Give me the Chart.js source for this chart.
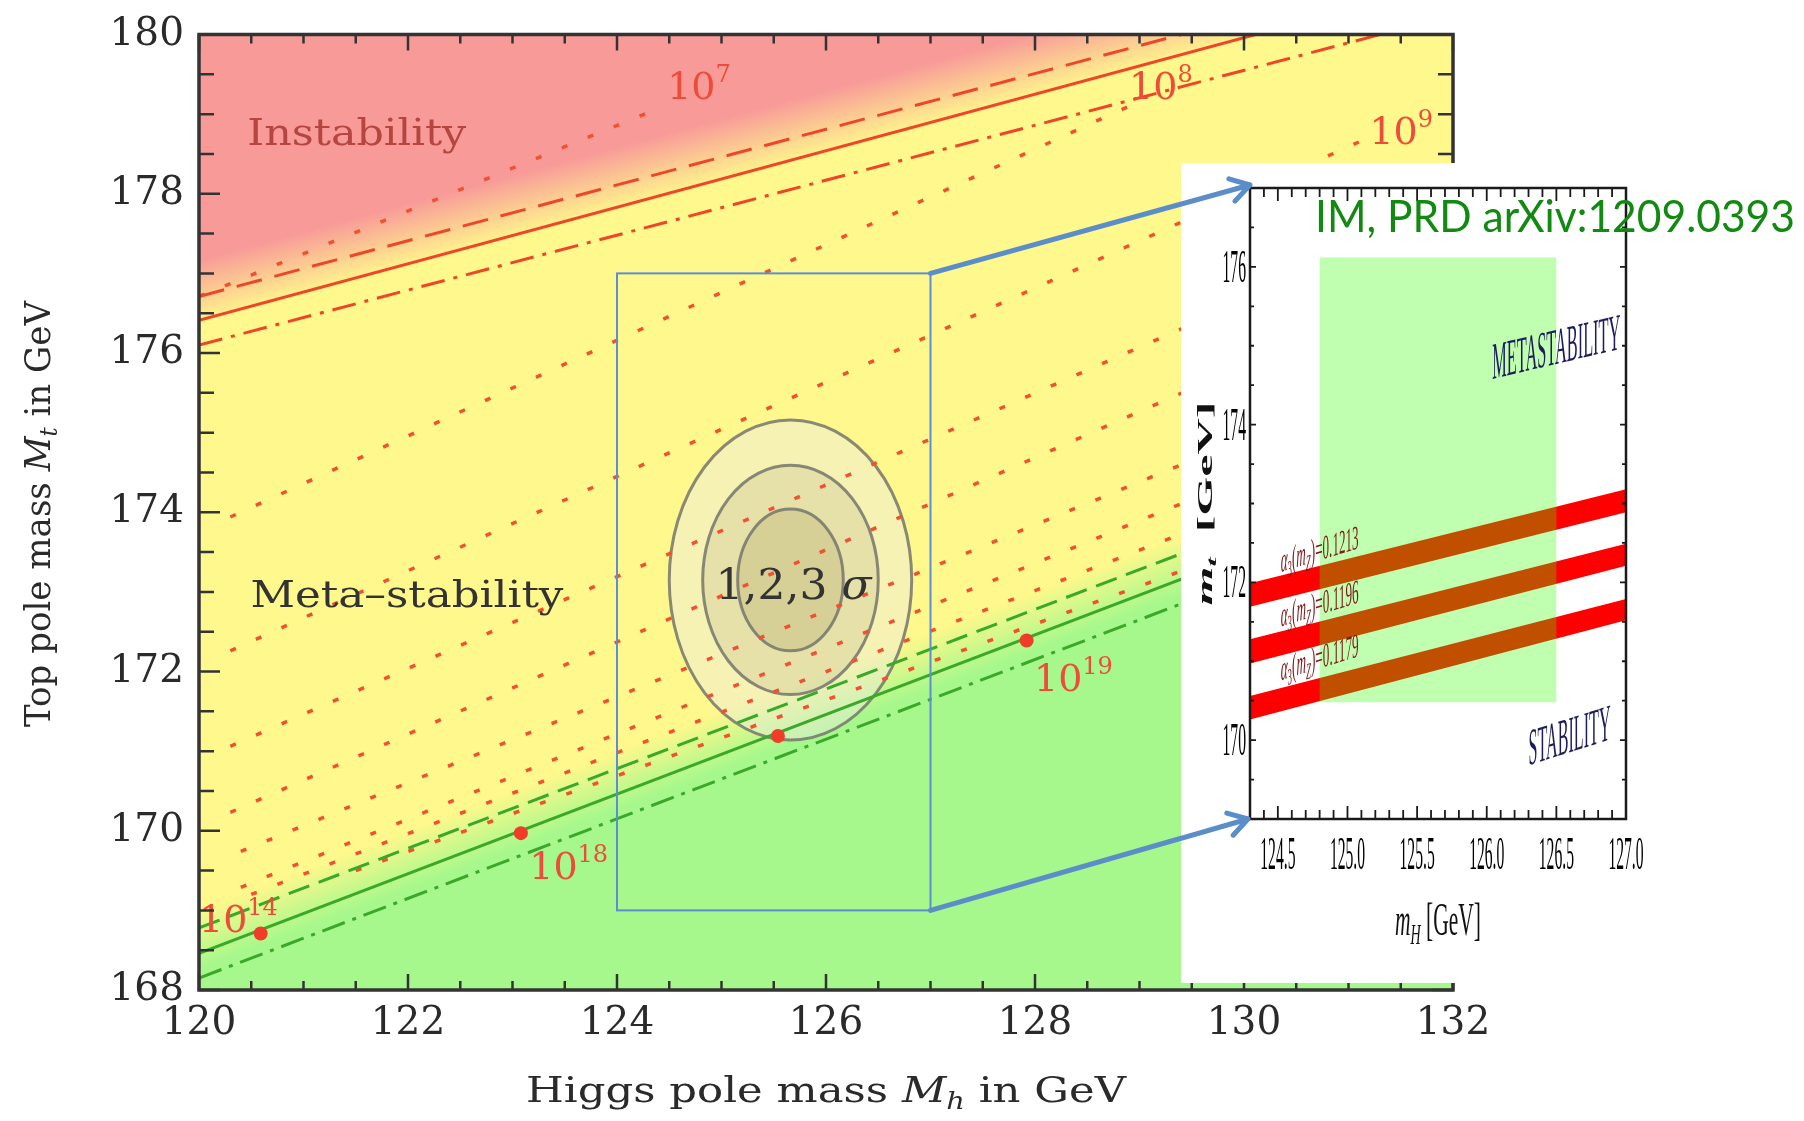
<!DOCTYPE html>
<html lang="en">
<head>
<meta charset="utf-8">
<title>Vacuum stability in the Higgs mass / top mass plane</title>
<script src="https://cdn.jsdelivr.net/npm/chart.js@4.4.1/dist/chart.umd.min.js"></script>
<style>
  html, body { margin: 0; background: #ffffff; }
  #stage { position: relative; width: 1804px; height: 1121px; overflow: hidden; }
  #main { position: absolute; left: 0; top: 0; }
  #inset { position: absolute; left: 1181px; top: 163px; }
</style>
</head>
<body>
<div id="stage">
  <canvas id="main" width="1804" height="1121"></canvas>
  <canvas id="inset" width="623" height="820"></canvas>
</div>
<script>
"use strict";

// ---------- main plot, values ----------
const xMajorTicks = [120, 122, 124, 126, 128, 130, 132];
const yMajorTicks = [168, 170, 172, 174, 176, 178, 180];

// boundaries: top mass at Mh = 120 and Mh = 132
const boundaryX = [120, 132];
const instabilityCentral = [176.41, 180.67];
const instabilityUpper = [176.71, 180.91];
const instabilityLower = [176.10, 180.24];
const stabilityCentral = [168.46, 174.46];
const stabilityUpper = [168.78, 174.78];
const stabilityLower = [168.15, 174.15];

// dotted contours of the instability scale (start / end points)
const contourX0 = [120.0, 120.3, 120.3, 120.3, 120.3, 120.4, 120.4, 120.5, 121.5];
const contourY0 = [176.71, 173.94, 172.26, 171.06, 170.23, 169.74, 169.29, 169.20, 169.50];
const contourX1 = [124.45, 129.0, 131.1, 132.0, 132.0, 132.0, 132.0, 132.0, 132.0];
const contourY1 = [179.10, 179.16, 178.65, 177.80, 177.00, 176.00, 175.50, 175.05, 174.50];

const scaleExponents = ['7', '8', '9', '14', '18', '19'];
const scaleLabelX = [124.48, 128.90, 131.20, 120.0, 123.16, 127.99];
const scaleLabelY = [179.19, 179.19, 178.63, 168.73, 169.39, 171.75];

const dotX = [120.59, 123.08, 125.54, 127.92];
const dotY = [168.71, 169.97, 171.19, 172.39];

// 1, 2, 3 sigma ellipses
const fitCenter = [125.66, 173.15];
const sigmaHalfX = [0.505, 0.84, 1.16];
const sigmaHalfY = [0.89, 1.44, 2.01];

const zoomBoxX = [124, 127];
const zoomBoxY = [169, 177];

// ---------- inset ----------
const insetXRange = [124.3, 127.0];
const insetYRange = [169, 177];
const insetXTicks = [124.5, 125.0, 125.5, 126.0, 126.5, 127.0];
const insetXLabels = ['124.5', '125.0', '125.5', '126.0', '126.5', '127.0'];
const insetYTicks = [170, 172, 174, 176];
const insetYLabels = ['170', '172', '174', '176'];
const alphaValues = ['0.1213', '0.1196', '0.1179'];
const bandX = [124.3, 127.0];
const bandTop = [[171.99, 173.18], [171.28, 172.49], [170.56, 171.79]];
const bandBottom = [[171.69, 172.89], [170.97, 172.21], [170.26, 171.52]];
const higgsWindowX = [124.8, 126.5];
const higgsWindowY = [170.48, 176.12];

const INSET_LEFT = 1181, INSET_TOP = 163;
const PINK = 'rgb(248,155,152)', YELLOW = 'rgb(255,248,140)', LIME = 'rgb(166,248,140)';
const LINE_RED = 'rgb(238,70,40)', DOT_RED = 'rgb(242,80,48)', LINE_GREEN = 'rgb(58,168,40)';

let mainChart = null, insetChart = null;

const serif = (size, style) => (style ? style + ' ' : '') + size + 'px "DejaVu Serif"';
const times = (size, style) => (style ? style + ' ' : '') + size + 'px "Liberation Serif"';

function range(a, b, step) {
  const out = [];
  for (let v = a; v <= b + 1e-9; v += step) out.push(+v.toFixed(4));
  return out;
}

// text made of runs (for italics, sub/superscripts); can be stretched, rotated, sheared
function drawRuns(ctx, runs, x, y, o) {
  o = o || {};
  ctx.save();
  let total = 0;
  for (const r of runs) { ctx.font = r.font; r.w = ctx.measureText(r.text).width; total += r.w; }
  const k = o.width ? o.width / total : (o.k || 1);
  ctx.translate(x, y);
  if (o.angle) ctx.rotate(o.angle);
  ctx.transform(k, o.rise ? -o.rise / total : 0, 0, o.squash || 1, 0, 0);
  let u = o.align === 'center' ? -total / 2 : (o.align === 'right' ? -total : 0);
  ctx.textAlign = 'left';
  ctx.textBaseline = 'alphabetic';
  for (const r of runs) {
    ctx.font = r.font;
    ctx.fillStyle = r.color || o.color || '#000';
    ctx.fillText(r.text, u, r.dy || 0);
    u += r.w;
  }
  ctx.restore();
}

// gradient across a sloping boundary line
function crossGradient(ctx, x, y, line, above, below, colAbove, colBelow) {
  const x0 = x.getPixelForValue(boundaryX[0]), y0 = y.getPixelForValue(line[0]);
  const x1 = x.getPixelForValue(boundaryX[1]), y1 = y.getPixelForValue(line[1]);
  const len = Math.hypot(x1 - x0, y1 - y0);
  const dx = (x1 - x0) / len, dy = (y1 - y0) / len;
  const nx = dy, ny = -dx;
  const unit = y.getPixelForValue(line[0]) - y.getPixelForValue(line[0] + 1);
  const pa = above * unit * dx, pb = below * unit * dx;
  const g = ctx.createLinearGradient(x0 + nx * pa, y0 + ny * pa, x0 + nx * pb, y0 + ny * pb);
  g.addColorStop(0, colAbove);
  g.addColorStop(1, colBelow);
  return g;
}

function drawFrame(chart, t) {
  const { ctx, chartArea: a, scales: { x, y } } = chart;
  ctx.save();
  ctx.strokeStyle = t.color;
  ctx.lineWidth = t.width;
  ctx.beginPath();
  const vTick = (v, len) => {
    const px = x.getPixelForValue(v);
    ctx.moveTo(px, a.bottom); ctx.lineTo(px, a.bottom - len);
    ctx.moveTo(px, a.top); ctx.lineTo(px, a.top + len);
  };
  const hTick = (v, len) => {
    const py = y.getPixelForValue(v);
    ctx.moveTo(a.left, py); ctx.lineTo(a.left + len, py);
    ctx.moveTo(a.right, py); ctx.lineTo(a.right - len, py);
  };
  t.xMinor.forEach(v => vTick(v, t.xMinorLen));
  t.xMajor.forEach(v => vTick(v, t.xMajorLen));
  t.yMinor.forEach(v => hTick(v, t.yMinorLen));
  t.yMajor.forEach(v => hTick(v, t.yMajorLen));
  ctx.stroke();
  ctx.lineWidth = t.frameWidth;
  ctx.strokeRect(a.left, a.top, a.width, a.height);
  ctx.restore();
}

// arrows from the zoom box to the inset, drawn on both canvases in page coordinates
function drawZoomArrows(ctx, offX, offY, mainC, insetC) {
  if (!mainC || !insetC) return;
  const mx = mainC.scales.x, my = mainC.scales.y, ia = insetC.chartArea;
  const from = [[zoomBoxX[1], zoomBoxY[1]], [zoomBoxX[1], zoomBoxY[0]]];
  const to = [[INSET_LEFT + ia.left, INSET_TOP + ia.top - 3], [INSET_LEFT + ia.left - 2, INSET_TOP + ia.bottom]];
  ctx.save();
  ctx.translate(-offX, -offY);
  ctx.strokeStyle = '#5b8ec9';
  ctx.lineWidth = 5;
  ctx.lineCap = 'round';
  ctx.lineJoin = 'round';
  for (let i = 0; i < 2; i++) {
    const x0 = mx.getPixelForValue(from[i][0]), y0 = my.getPixelForValue(from[i][1]);
    const [x1, y1] = to[i];
    const ang = Math.atan2(y1 - y0, x1 - x0);
    ctx.beginPath();
    ctx.moveTo(x0, y0);
    ctx.lineTo(x1, y1);
    for (const s of [-1, 1]) {
      ctx.moveTo(x1, y1);
      ctx.lineTo(x1 - 22 * Math.cos(ang + s * 0.55), y1 - 22 * Math.sin(ang + s * 0.55));
    }
    ctx.stroke();
  }
  ctx.restore();
}

function lineSet(xs, ys, color, dash, width) {
  return {
    data: xs.map((v, i) => ({ x: v, y: ys[i] })),
    showLine: true, fill: false, clip: 0,
    borderColor: color, borderWidth: width, borderDash: dash,
    borderCapStyle: 'butt', pointRadius: 0
  };
}

const mainSets = [];
mainSets.push({
  data: dotX.map((v, i) => ({ x: v, y: dotY[i] })),
  showLine: false, clip: 0, pointRadius: 7,
  pointBackgroundColor: 'rgb(240,60,40)', pointBorderWidth: 0
});
mainSets.push(lineSet(boundaryX, instabilityUpper, LINE_RED, [26, 13], 3));
mainSets.push(lineSet(boundaryX, instabilityCentral, LINE_RED, [], 3));
mainSets.push(lineSet(boundaryX, instabilityLower, LINE_RED, [24, 9, 4, 9], 3));
mainSets.push(lineSet(boundaryX, stabilityUpper, LINE_GREEN, [22, 10], 3));
mainSets.push(lineSet(boundaryX, stabilityCentral, LINE_GREEN, [], 3));
mainSets.push(lineSet(boundaryX, stabilityLower, LINE_GREEN, [24, 8, 4, 8], 3));
contourX0.forEach((v, i) => {
  mainSets.push(lineSet([v, contourX1[i]], [contourY0[i], contourY1[i]], DOT_RED, [6, 22], 3.5));
});

const mainPaint = {
  id: 'mainPaint',
  beforeDatasetsDraw(chart) {
    const { ctx, chartArea: a, scales: { x, y } } = chart;
    ctx.save();
    ctx.beginPath();
    ctx.rect(a.left, a.top, a.width, a.height);
    ctx.clip();
    // instability (red) fading into meta-stability (yellow)
    ctx.fillStyle = crossGradient(ctx, x, y, instabilityCentral, 0.75, -0.05, PINK, YELLOW);
    ctx.fillRect(a.left, a.top, a.width, a.height);
    // stability region (green) below the stability line
    const lift = 1.5;
    ctx.beginPath();
    ctx.moveTo(x.getPixelForValue(boundaryX[0]), y.getPixelForValue(stabilityCentral[0] + lift));
    ctx.lineTo(x.getPixelForValue(boundaryX[1]), y.getPixelForValue(stabilityCentral[1] + lift));
    ctx.lineTo(a.right, a.bottom);
    ctx.lineTo(a.left, a.bottom);
    ctx.closePath();
    ctx.fillStyle = crossGradient(ctx, x, y, stabilityCentral, 0.55, -0.2, YELLOW, LIME);
    ctx.fill();
    // 1, 2, 3 sigma ellipses
    const fills = ['rgba(170,160,100,0.25)', 'rgba(180,176,140,0.25)', 'rgba(236,236,226,0.45)'];
    const cx = x.getPixelForValue(fitCenter[0]), cy = y.getPixelForValue(fitCenter[1]);
    for (let i = 2; i >= 0; i--) {
      const rx = x.getPixelForValue(fitCenter[0] + sigmaHalfX[i]) - cx;
      const ry = cy - y.getPixelForValue(fitCenter[1] + sigmaHalfY[i]);
      ctx.beginPath();
      ctx.ellipse(cx, cy, rx, ry, 0, 0, Math.PI * 2);
      ctx.fillStyle = fills[i];
      ctx.fill();
      ctx.lineWidth = 3;
      ctx.strokeStyle = 'rgba(118,118,108,0.85)';
      ctx.stroke();
    }
    ctx.restore();
  },
  afterDatasetsDraw(chart) {
    const { ctx, scales: { x, y } } = chart;
    ctx.save();
    ctx.strokeStyle = '#5d8ed3';
    ctx.lineWidth = 2;
    const bx0 = x.getPixelForValue(zoomBoxX[0]), bx1 = x.getPixelForValue(zoomBoxX[1]);
    const by0 = y.getPixelForValue(zoomBoxY[1]), by1 = y.getPixelForValue(zoomBoxY[0]);
    ctx.strokeRect(bx0, by0, bx1 - bx0, by1 - by0);
    ctx.restore();

    drawRuns(ctx, [{ text: 'Instability', font: serif(37) }],
      x.getPixelForValue(121.51), y.getPixelForValue(178.61), { align: 'center', width: 219, color: '#b5463f' });
    drawRuns(ctx, [{ text: 'Meta\u2013stability', font: serif(37) }],
      x.getPixelForValue(121.99), y.getPixelForValue(172.81), { align: 'center', width: 313, color: '#333333' });
    drawRuns(ctx, [{ text: '1,2,3 ', font: serif(42) }, { text: '\u03c3', font: serif(42, 'italic') }],
      x.getPixelForValue(125.69), y.getPixelForValue(172.91), { align: 'center', width: 156, color: '#333333' });
    scaleExponents.forEach((e, i) => {
      drawRuns(ctx, [{ text: '10', font: serif(38) }, { text: e, font: serif(24), dy: -17 }],
        x.getPixelForValue(scaleLabelX[i]), y.getPixelForValue(scaleLabelY[i]), { color: '#ef4b3a' });
    });
  },
  afterDraw(chart) {
    const { ctx, chartArea: a } = chart;
    drawFrame(chart, {
      color: '#333333', width: 2.5, frameWidth: 3.5,
      xMajor: xMajorTicks, xMinor: range(120, 132, 0.5), xMajorLen: 16, xMinorLen: 9,
      yMajor: yMajorTicks, yMinor: range(168, 180, 0.5), yMajorLen: 21, yMinorLen: 15
    });
    drawRuns(ctx, [
      { text: 'Higgs pole mass ', font: serif(36) },
      { text: 'M', font: serif(36, 'italic') },
      { text: 'h', font: serif(24, 'italic'), dy: 7 },
      { text: ' in GeV', font: serif(36) }
    ], (a.left + a.right) / 2, 1102, { align: 'center', width: 600, color: '#2a2a2a' });
    drawRuns(ctx, [
      { text: 'Top pole mass ', font: serif(36) },
      { text: 'M', font: serif(36, 'italic') },
      { text: 't', font: serif(24, 'italic'), dy: 7 },
      { text: ' in GeV', font: serif(36) }
    ], 50, 514, { align: 'center', angle: -Math.PI / 2, width: 426, color: '#2a2a2a' });
    drawZoomArrows(ctx, 0, 0, chart, insetChart);
  }
};

mainChart = new Chart(document.getElementById('main'), {
  type: 'scatter',
  data: { datasets: mainSets },
  options: {
    responsive: false, animation: false, devicePixelRatio: 1, events: [],
    layout: { padding: { left: 0, top: 23, right: 351, bottom: 0 } },
    plugins: { legend: { display: false }, tooltip: { enabled: false } },
    scales: {
      x: {
        type: 'linear', min: 120, max: 132,
        grid: { display: false, drawTicks: false }, border: { display: false },
        ticks: { color: '#2a2a2a', padding: 14, font: { family: 'DejaVu Serif', size: 39, lineHeight: 1 } },
        afterBuildTicks: s => { s.ticks = xMajorTicks.map(v => ({ value: v })); },
        afterFit: s => { s.height = 131; }
      },
      y: {
        type: 'linear', min: 168, max: 180,
        grid: { display: false, drawTicks: false }, border: { display: false },
        ticks: { color: '#2a2a2a', padding: 15, font: { family: 'DejaVu Serif', size: 39, lineHeight: 1 } },
        afterBuildTicks: s => { s.ticks = yMajorTicks.map(v => ({ value: v })); },
        afterFit: s => { s.width = 199; }
      }
    }
  },
  plugins: [mainPaint]
});

// ---------- inset chart ----------
const insetSets = [];
bandTop.forEach((top, i) => {
  insetSets.push({
    data: [{ x: bandX[0], y: top[0] }, { x: bandX[1], y: top[1] }],
    showLine: true, borderWidth: 0, borderColor: 'rgba(0,0,0,0)', pointRadius: 0, fill: false
  });
  insetSets.push({
    data: [{ x: bandX[0], y: bandBottom[i][0] }, { x: bandX[1], y: bandBottom[i][1] }],
    showLine: true, borderWidth: 0, borderColor: 'rgba(0,0,0,0)', pointRadius: 0,
    fill: '-1', backgroundColor: 'rgb(255,0,0)'
  });
});

const alphaLabelY = [172.13, 171.44, 170.76];

const insetPaint = {
  id: 'insetPaint',
  beforeDraw(chart) {
    const { ctx, width, height } = chart;
    ctx.save();
    ctx.fillStyle = '#ffffff';
    ctx.fillRect(0, 0, width, height);
    ctx.restore();
  },
  afterDatasetsDraw(chart) {
    const { ctx, scales: { x, y } } = chart;
    // Higgs mass window laid over the bands (turns them brown)
    const wx0 = x.getPixelForValue(higgsWindowX[0]), wx1 = x.getPixelForValue(higgsWindowX[1]);
    const wy0 = y.getPixelForValue(higgsWindowY[1]), wy1 = y.getPixelForValue(higgsWindowY[0]);
    ctx.save();
    ctx.fillStyle = 'rgba(52,255,0,0.31)';
    ctx.fillRect(wx0, wy0, wx1 - wx0, wy1 - wy0);
    ctx.restore();

    drawRuns(ctx, [{ text: 'METASTABILITY', font: times(52) }],
      x.getPixelForValue(126.04), y.getPixelForValue(174.58), { width: 128, rise: 30, color: '#1d1d5c' });
    drawRuns(ctx, [{ text: 'STABILITY', font: times(52) }],
      x.getPixelForValue(126.30), y.getPixelForValue(169.68), { width: 82, rise: 26, color: '#1d1d5c' });
    alphaValues.forEach((v, i) => {
      drawRuns(ctx, [
        { text: '\u03b1', font: times(34, 'italic') },
        { text: '3', font: times(23), dy: 7 },
        { text: '(', font: times(34) },
        { text: 'm', font: times(34, 'italic') },
        { text: 'Z', font: times(23, 'italic'), dy: 7 },
        { text: ')=' + v, font: times(34) }
      ], x.getPixelForValue(124.52), y.getPixelForValue(alphaLabelY[i]), { width: 78, rise: 24, color: '#7d1a1a' });
    });
  },
  afterDraw(chart) {
    const { ctx, chartArea: a, scales: { x, y } } = chart;
    drawFrame(chart, {
      color: '#1a1a1a', width: 1.8, frameWidth: 2.5,
      xMajor: insetXTicks, xMinor: range(124.3, 127.0, 0.1), xMajorLen: 13, xMinorLen: 9,
      yMajor: insetYTicks, yMinor: range(169, 177, 0.5), yMajorLen: 6, yMinorLen: 4
    });
    insetXTicks.forEach((v, i) => {
      drawRuns(ctx, [{ text: insetXLabels[i], font: times(46) }],
        x.getPixelForValue(v), a.bottom + 50, { align: 'center', k: 0.34, color: '#000000' });
    });
    insetYTicks.forEach((v, i) => {
      drawRuns(ctx, [{ text: insetYLabels[i], font: times(46) }],
        a.left - 4, y.getPixelForValue(v) + 15, { align: 'right', k: 0.34, color: '#000000' });
    });
    drawRuns(ctx, [
      { text: 'm', font: times(46, 'italic') },
      { text: 'H', font: times(30, 'italic'), dy: 9 },
      { text: ' [GeV]', font: times(46) }
    ], (a.left + a.right) / 2, a.bottom + 116, { align: 'center', width: 86, color: '#111111' });
    drawRuns(ctx, [
      { text: 'm', font: times(46, 'bold italic') },
      { text: 't', font: times(30, 'bold italic'), dy: 8 },
      { text: '  [GeV]', font: times(46, 'bold') }
    ], 31, (a.top + a.bottom) / 2, { align: 'center', angle: -Math.PI / 2, width: 204, squash: 0.45, color: '#111111' });
    drawRuns(ctx, [{ text: 'IM, PRD arXiv:1209.0393', font: '44px Lato' }],
      134, 69, { width: 480, color: '#128a12' });
    drawZoomArrows(ctx, INSET_LEFT, INSET_TOP, mainChart, chart);
  }
};

insetChart = new Chart(document.getElementById('inset'), {
  type: 'scatter',
  data: { datasets: insetSets },
  options: {
    responsive: false, animation: false, devicePixelRatio: 1, events: [],
    layout: { padding: { left: 0, top: 25, right: 178, bottom: 0 } },
    plugins: { legend: { display: false }, tooltip: { enabled: false } },
    scales: {
      x: {
        type: 'linear', min: insetXRange[0], max: insetXRange[1],
        grid: { display: false, drawTicks: false }, border: { display: false },
        ticks: { display: false },
        afterFit: s => { s.height = 164; }
      },
      y: {
        type: 'linear', min: insetYRange[0], max: insetYRange[1],
        grid: { display: false, drawTicks: false }, border: { display: false },
        ticks: { display: false },
        afterFit: s => { s.width = 69; }
      }
    }
  },
  plugins: [insetPaint]
});

// redraw the main chart so its part of the arrows appears
mainChart.update('none');
</script>
</body>
</html>
